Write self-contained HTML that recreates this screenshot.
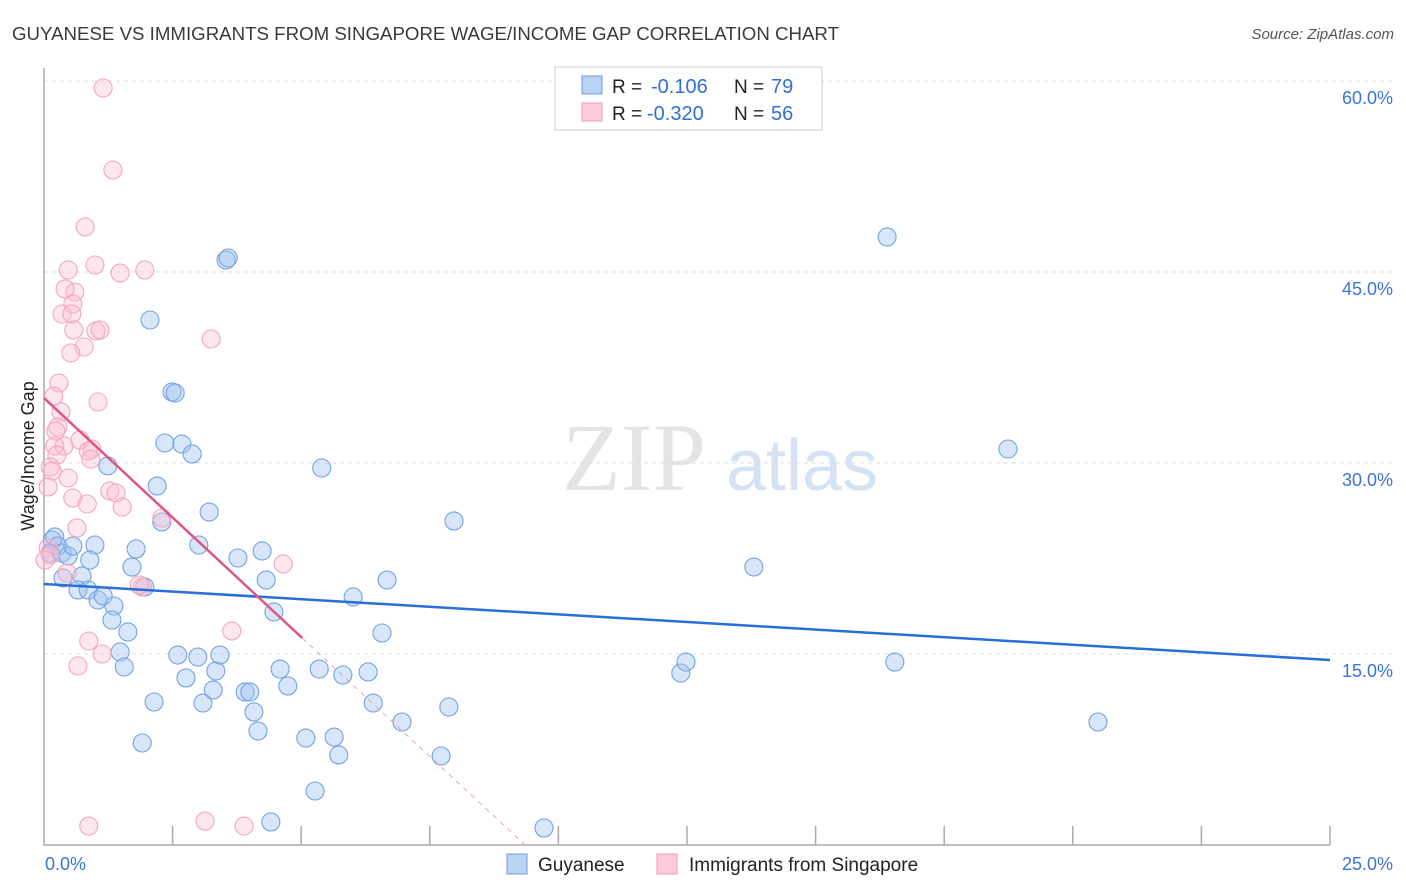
<!DOCTYPE html>
<html><head><meta charset="utf-8"><style>
body{margin:0;background:#fff;font-family:"Liberation Sans",sans-serif}
svg{display:block}
</style></head><body>
<svg id="chart" width="1406" height="892" xmlns="http://www.w3.org/2000/svg">
<text x="12" y="40" font-size="18" fill="#3a3a3a" textLength="827" lengthAdjust="spacingAndGlyphs">GUYANESE VS IMMIGRANTS FROM SINGAPORE WAGE/INCOME GAP CORRELATION CHART</text>
<text x="1394" y="39" font-size="15" fill="#555" font-style="italic" text-anchor="end">Source: ZipAtlas.com</text>
<g>
<text x="634" y="490" font-size="96" fill="#e4e4e4" font-family="Liberation Serif" text-anchor="middle">ZIP</text>
<text x="802" y="490" font-size="72" fill="#d4e2f4" text-anchor="middle">atlas</text>
</g>
<g id="grid"></g>
<g id="axes"></g>
<g id="marks"></g>
<text transform="translate(34,456) rotate(-90)" font-size="18" fill="#222" text-anchor="middle">Wage/Income Gap</text>
<g>
<rect x="555" y="67" width="267" height="63" fill="#fff" stroke="#ccc"/>
<rect x="582" y="76" width="20" height="18" fill="#b9d3f5" stroke="#6b9de0"/>
<rect x="582" y="103" width="20" height="18" fill="#fccadb" stroke="#f09ab8"/>
<text x="612" y="93" font-size="19" fill="#222">R =</text>
<text x="651" y="93" font-size="20" fill="#2f6fd6">-0.106</text>
<text x="734" y="93" font-size="19" fill="#222">N =</text>
<text x="771" y="93" font-size="20" fill="#2f6fd6">79</text>
<text x="612" y="120" font-size="19" fill="#222">R =</text>
<text x="647" y="120" font-size="20" fill="#2f6fd6">-0.320</text>
<text x="734" y="120" font-size="19" fill="#222">N =</text>
<text x="771" y="120" font-size="20" fill="#2f6fd6">56</text>
</g>
<g>
<rect x="507" y="854" width="20" height="20" fill="#b9d3f5" stroke="#6b9de0"/>
<text x="538" y="871" font-size="19" fill="#222">Guyanese</text>
<rect x="657" y="854" width="20" height="20" fill="#fccadb" stroke="#f09ab8"/>
<text x="689" y="871" font-size="19" fill="#222">Immigrants from Singapore</text>
</g>
</svg>
<script>
const yTicks=[15,30,45,60];
const yTickLabels=["15.0%","30.0%","45.0%","60.0%"];
const xTickLabels=["0.0%","25.0%"];
const blueX=[0.16,0.21,0.27,0.12,0.35,0.47,0.56,0.99,0.37,0.74,0.66,0.86,0.89,1.05,1.15,1.36,1.32,1.63,1.48,1.56,1.24,1.79,1.71,1.96,2.20,2.29,2.06,2.49,2.55,2.35,2.68,2.88,3.01,3.21,3.54,3.58,3.77,4.24,4.32,4.47,5.40,6.01,6.67,6.57,7.97,2.60,2.76,3.09,3.29,3.34,3.42,2.99,2.14,1.91,3.91,4.00,4.08,4.16,4.59,4.74,5.09,5.35,5.64,5.73,5.81,6.30,6.40,6.96,7.87,7.72,5.27,4.41,9.72,12.38,12.48,13.80,16.39,16.54,18.74,20.49];
const blueY=[23.95,24.19,23.48,22.93,22.93,22.70,23.48,23.56,20.97,21.13,20.03,20.03,22.38,19.24,19.56,18.77,17.67,16.73,15.16,13.98,29.77,23.25,21.83,20.26,28.19,25.37,41.23,35.58,35.50,31.57,31.49,30.71,23.56,26.15,45.94,46.10,22.54,23.09,20.81,18.30,29.61,19.48,20.81,16.65,25.45,14.92,13.12,11.15,12.17,13.67,14.92,14.76,11.23,8.01,12.02,12.02,10.45,8.95,13.82,12.49,8.40,13.82,8.48,7.07,13.35,13.59,11.15,9.66,10.84,6.99,4.24,1.81,1.34,13.51,14.37,21.83,47.75,14.37,31.10,9.66];
const pinkX=[1.15,1.34,0.80,0.47,0.99,1.48,1.96,0.60,0.41,0.56,0.35,0.54,0.58,1.01,1.09,0.78,0.52,3.25,0.29,0.19,1.05,0.33,0.27,0.23,0.39,0.70,0.93,0.86,0.91,0.21,0.25,0.12,0.16,0.08,0.47,0.56,0.84,1.28,1.40,1.52,0.64,2.29,0.08,0.12,0.02,0.45,1.91,1.85,4.65,3.65,0.87,1.13,0.66,0.87,3.13,3.89];
const pinkY=[59.45,53.01,48.54,45.16,45.55,44.92,45.16,43.43,43.67,42.49,41.70,41.70,40.45,40.37,40.45,39.11,38.64,39.74,36.28,35.26,34.79,34.01,32.83,32.51,31.34,31.81,31.10,30.94,30.31,31.34,30.63,29.69,29.37,28.12,28.82,27.25,26.78,27.80,27.64,26.54,24.90,25.68,23.33,22.78,22.38,21.36,20.26,20.42,22.07,16.81,16.02,15.00,14.06,1.49,1.88,1.49];
const blueTrend=[20.5,14.53];
const pinkTrend=[35.1,16.26,5.02];
const NS="http://www.w3.org/2000/svg";
const X0=44,X1=1330,Y0=845,Y60=81;
const sx=v=>X0+v/25*(X1-X0);
const sy=v=>Y0-v/60*(Y0-Y60);
function mk(t,a,p){const e=document.createElementNS(NS,t);for(const k in a)e.setAttribute(k,a[k]);p.appendChild(e);return e;}
const grid=document.getElementById('grid'),axes=document.getElementById('axes'),marks=document.getElementById('marks');
yTicks.forEach((t,i)=>{
 const l=mk('line',{x1:X0,x2:1394,y1:sy(t),y2:sy(t),stroke:'#ddd','stroke-dasharray':'4,4'},grid);
 
 
 const tx=mk('text',{x:1393,y:sy(t)+23,'font-size':18,fill:'#3b74d8','text-anchor':'end'},axes);
 tx.textContent=yTickLabels[i];
 
 
});
const ax=mk('path',{d:`M${X0},68 V${Y0} H${X1}`,stroke:'#aaa',fill:'none','stroke-width':1.5},axes);


for(let i=1;i<=10;i++){
 const x=sx(i*2.5);
 const t=mk('line',{x1:x,x2:x,y1:Y0-19,y2:Y0,stroke:'#aaa','stroke-width':1.5},axes);
 
 
}
[[0,'start',45],[25,'end',1393]].forEach((d,i)=>{
 const tx=mk('text',{x:d[2],y:870,'font-size':18,fill:'#3b74d8','text-anchor':d[1]},axes);
 tx.textContent=xTickLabels[i];
 
 
});
blueX.forEach((v,i)=>{
 const c=mk('circle',{cx:sx(v),cy:sy(blueY[i]),r:9,fill:'rgba(160,196,240,0.42)',stroke:'#74a2e2','stroke-width':1.1},marks);
 
 
});
pinkX.forEach((v,i)=>{
 const c=mk('circle',{cx:sx(v),cy:sy(pinkY[i]),r:9,fill:'rgba(250,190,210,0.38)',stroke:'#f2a6c0','stroke-width':1.1},marks);
 
 
});
const bl=mk('line',{x1:sx(0),y1:sy(blueTrend[0]),x2:sx(25),y2:sy(blueTrend[1]),stroke:'#2a6fd6','stroke-width':2.5},marks);


const slope=(pinkTrend[1]-pinkTrend[0])/pinkTrend[2];
const xEnd=-pinkTrend[0]/slope;
const pl=mk('line',{x1:sx(0),y1:sy(pinkTrend[0]),x2:sx(pinkTrend[2]),y2:sy(pinkTrend[1]),stroke:'#e0557f','stroke-width':2.5},marks);


const pd=mk('line',{x1:sx(pinkTrend[2]),y1:sy(pinkTrend[1]),x2:sx(xEnd),y2:sy(0),stroke:'#e8a0b8','stroke-width':1,'stroke-dasharray':'5,5'},marks);


</script>
</body></html>
